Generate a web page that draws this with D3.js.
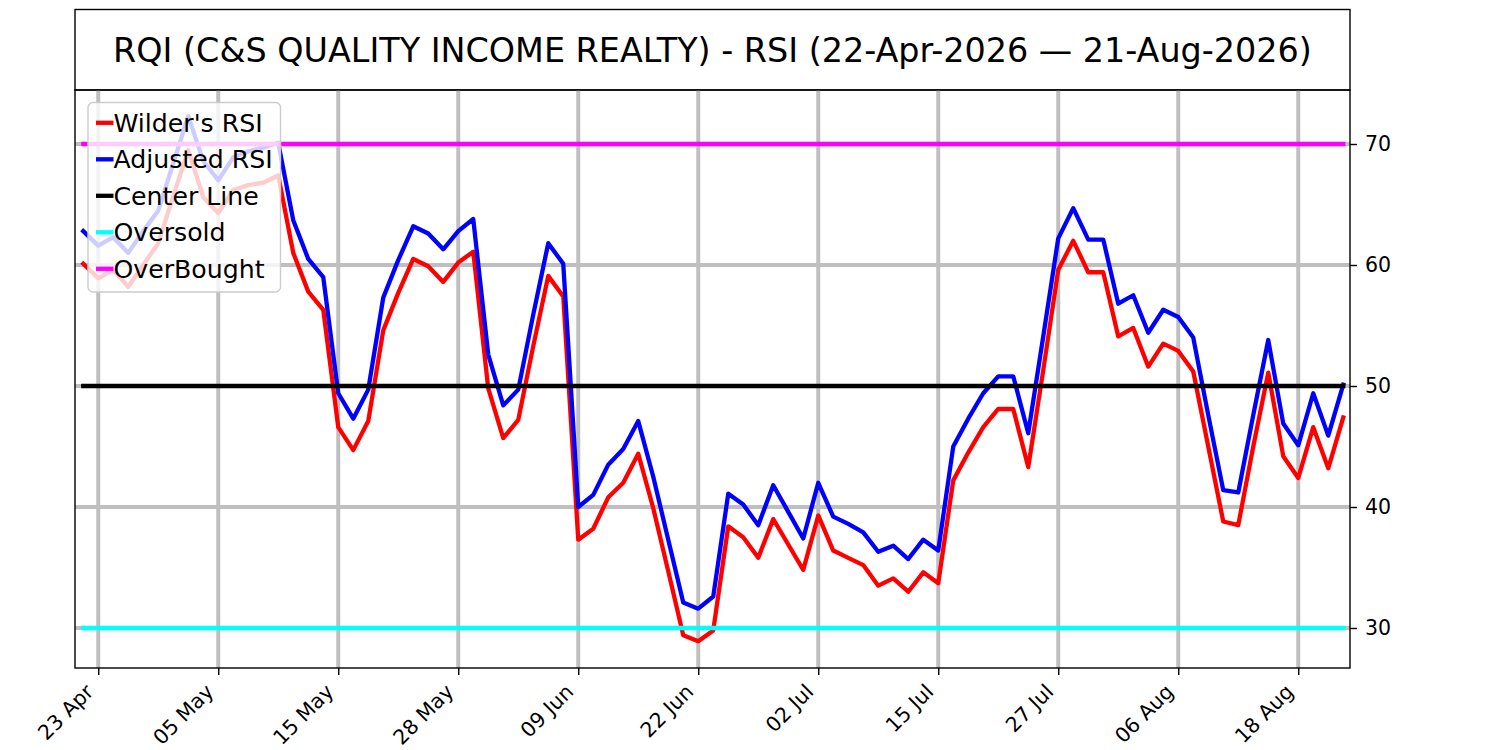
<!DOCTYPE html>
<html lang="en">
<head>
<meta charset="utf-8">
<script src="https://d3js.org/d3.v7.min.js"></script>
<style>
  body { margin: 0; background: #fff; }
  text { font-family: "DejaVu Sans", sans-serif; }
</style>
</head>
<body>
<script type="text/javascript">

// RSI values, one per trading day from 22-Apr-2026 to 21-Aug-2026
var wilderRSI = [60.1, 58.9, 59.6, 58.2, 60.0, 61.8, 65.7, 69.5, 65.6, 64.3,
  66.2, 66.6, 66.8, 67.4, 61.0, 57.8, 56.3, 46.6, 44.7, 47.1,
  54.6, 57.7, 60.5, 59.9, 58.6, 60.2, 61.1, 49.8, 45.7, 47.2,
  53.3, 59.1, 57.4, 37.3, 38.2, 40.8, 42.0, 44.4, 39.9, 34.7,
  29.4, 28.9, 29.8, 38.4, 37.5, 35.8, 39.0, 36.9, 34.8, 39.3,
  36.4, 35.8, 35.2, 33.5, 34.1, 33.0, 34.6, 33.7, 42.2, 44.5,
  46.6, 48.1, 48.1, 43.3, 51.3, 59.6, 62.0, 59.4, 59.4, 54.1,
  54.8, 51.6, 53.5, 52.9, 51.2, 45.0, 38.8, 38.5, 45.0, 51.1,
  44.2, 42.4, 46.6, 43.2, 47.4];

var adjustedRSI = [62.8, 61.6, 62.3, 61.0, 62.8, 64.5, 68.4, 72.3, 68.6, 67.0,
  68.9, 69.4, 69.7, 70.1, 63.7, 60.5, 59.0, 49.4, 47.3, 49.7,
  57.3, 60.4, 63.2, 62.6, 61.3, 62.8, 63.8, 52.6, 48.4, 49.7,
  55.9, 61.8, 60.1, 40.0, 41.0, 43.5, 44.8, 47.1, 42.5, 37.3,
  32.1, 31.6, 32.6, 41.1, 40.2, 38.5, 41.8, 39.6, 37.4, 42.0,
  39.2, 38.6, 37.9, 36.3, 36.8, 35.7, 37.3, 36.4, 45.0, 47.3,
  49.4, 50.8, 50.8, 46.1, 54.1, 62.2, 64.7, 62.1, 62.1, 56.8,
  57.5, 54.4, 56.3, 55.7, 54.0, 47.6, 41.4, 41.2, 47.6, 53.8,
  46.9, 45.1, 49.4, 45.9, 50.1];

var centerLevel = 50;
var oversoldLevel = 30;
var overboughtLevel = 70;

// x ticks: trading-day index and label
var tickIndex = [1, 9, 17, 25, 33, 41, 49, 57, 65, 73, 81];
var tickLabels = ["23 Apr", "05 May", "15 May", "28 May", "09 Jun", "22 Jun",
  "02 Jul", "15 Jul", "27 Jul", "06 Aug", "18 Aug"];
var yTicks = [30, 40, 50, 60, 70];

var title = "RQI (C&S QUALITY INCOME REALTY) - RSI (22-Apr-2026 \u2014 21-Aug-2026)";

var width = 1500;
var height = 750;
var plotLeft = 75, plotRight = 1350, plotTop = 90, plotBottom = 668;

var svg = d3.select("body")
  .append("svg")
  .attr("width", width)
  .attr("height", height);

var n = wilderRSI.length;

var x = d3.scaleLinear()
  .domain([-0.55, n - 1 + 0.45])
  .range([plotLeft, plotRight]);

var y = d3.scaleLinear()
  .domain([26.694, 74.463])
  .range([plotBottom, plotTop]);

// title box
svg.append("rect")
  .attr("x", plotLeft).attr("y", 9.5)
  .attr("width", plotRight - plotLeft).attr("height", plotTop - 9.5)
  .attr("fill", "#fff")
  .attr("stroke", "#000")
  .attr("stroke-width", 1.4);

svg.append("text")
  .attr("x", (plotLeft + plotRight) / 2)
  .attr("y", 50)
  .attr("text-anchor", "middle")
  .attr("dominant-baseline", "central")
  .style("font-size", "33.4px")
  .text(title);

// grid
var grid = svg.append("g");
grid.selectAll("line.vg")
  .data(tickIndex)
  .enter().append("line")
  .attr("class", "vg")
  .attr("x1", function(d) { return x(d); })
  .attr("x2", function(d) { return x(d); })
  .attr("y1", plotTop).attr("y2", plotBottom)
  .attr("stroke", "#bfbfbf")
  .attr("stroke-width", 4);

grid.selectAll("line.hg")
  .data(yTicks)
  .enter().append("line")
  .attr("class", "hg")
  .attr("x1", plotLeft).attr("x2", plotRight)
  .attr("y1", function(d) { return y(d); })
  .attr("y2", function(d) { return y(d); })
  .attr("stroke", "#bfbfbf")
  .attr("stroke-width", 4);

// series
var line = d3.line()
  .x(function(d, i) { return x(i); })
  .y(function(d) { return y(d); });

function level(v) {
  return wilderRSI.map(function() { return v; });
}

var series = [
  {name: "Wilder's RSI", color: "#ff0000", values: wilderRSI},
  {name: "Adjusted RSI", color: "#0000ff", values: adjustedRSI},
  {name: "Center Line", color: "#000000", values: level(centerLevel)},
  {name: "Oversold", color: "#00ffff", values: level(oversoldLevel)},
  {name: "OverBought", color: "#ff00ff", values: level(overboughtLevel)}
];

svg.selectAll("path.series")
  .data(series)
  .enter().append("path")
  .attr("class", "series")
  .attr("d", function(d) { return line(d.values); })
  .attr("fill", "none")
  .attr("stroke", function(d) { return d.color; })
  .attr("stroke-width", 4.3)
  .attr("stroke-linejoin", "round")
  .attr("stroke-linecap", "square");

// axes frame
svg.append("rect")
  .attr("x", plotLeft).attr("y", plotTop)
  .attr("width", plotRight - plotLeft).attr("height", plotBottom - plotTop)
  .attr("fill", "none")
  .attr("stroke", "#000")
  .attr("stroke-width", 1.4);

// x axis
var xAxis = svg.append("g")
  .attr("transform", "translate(0," + plotBottom + ")")
  .call(d3.axisBottom(x)
    .tickValues(tickIndex)
    .tickSize(7)
    .tickFormat(function(d, i) { return tickLabels[i]; }));
xAxis.select(".domain").remove();
xAxis.attr("font-size", null).attr("font-family", null);
xAxis.selectAll(".tick line").attr("stroke", "#000").attr("stroke-width", 1.4);
xAxis.selectAll(".tick text")
  .style("font-size", "20.5px")
  .attr("fill", "#000")
  .attr("text-anchor", "end")
  .attr("dy", null)
  .attr("y", null)
  .attr("transform", "translate(-4,25) rotate(-45)");

// y axis on the right
var yAxis = svg.append("g")
  .attr("transform", "translate(" + plotRight + ",0)")
  .call(d3.axisRight(y)
    .tickValues(yTicks)
    .tickSize(7)
    .tickPadding(8));
yAxis.select(".domain").remove();
yAxis.attr("font-size", null).attr("font-family", null);
yAxis.selectAll(".tick line").attr("stroke", "#000").attr("stroke-width", 1.4);
yAxis.selectAll(".tick text")
  .style("font-size", "20.5px")
  .attr("fill", "#000");

// legend
var legend = svg.append("g").attr("transform", "translate(88,102.5)");
legend.append("rect")
  .attr("width", 192.5).attr("height", 189.5)
  .attr("rx", 5).attr("ry", 5)
  .attr("fill", "rgba(255,255,255,0.8)")
  .attr("stroke", "#cccccc")
  .attr("stroke-width", 1.4);

var rows = legend.selectAll("g.row")
  .data(series)
  .enter().append("g")
  .attr("class", "row")
  .attr("transform", function(d, i) { return "translate(0," + (20.3 + i * 36.5) + ")"; });

rows.append("line")
  .attr("x1", 8).attr("x2", 25.5)
  .attr("stroke", function(d) { return d.color; })
  .attr("stroke-width", 4.3);

rows.append("text")
  .attr("x", 25.5)
  .attr("y", 8.8)
  .style("font-size", "25.2px")
  .attr("fill", "#000")
  .text(function(d) { return d.name; });

</script>
</body>
</html>
